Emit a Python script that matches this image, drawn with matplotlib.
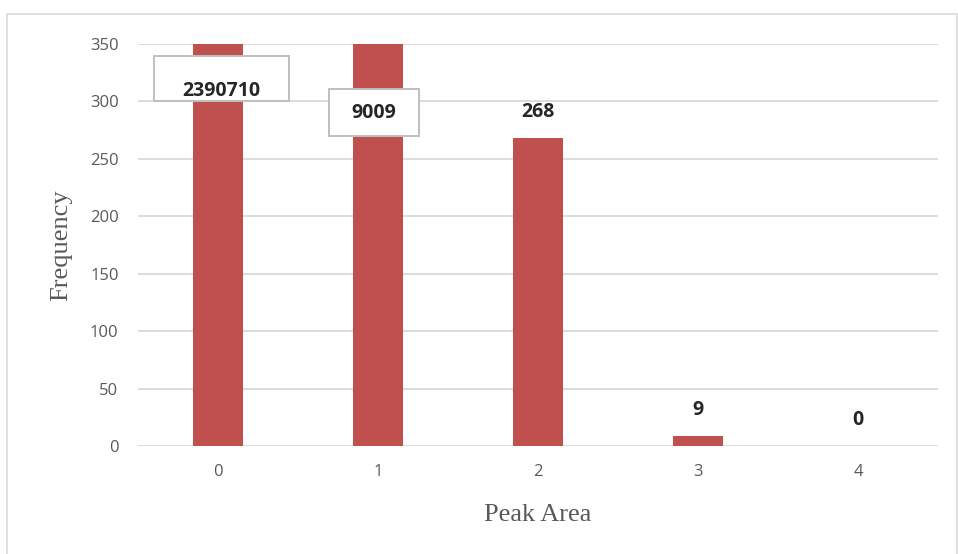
import matplotlib
matplotlib.use("Agg")
import matplotlib.pyplot as plt
from matplotlib.patches import Rectangle

# Histogram counts per peak-area bin
categories = ["0", "1", "2", "3", "4"]
counts = [2390710, 9009, 268, 9, 0]
y_ticks = [0, 50, 100, 150, 200, 250, 300, 350]

bar_color = "#c0504d"
grid_color = "#d9d9d9"
tick_color = "#595959"
label_color = "#262626"

fig = plt.figure(figsize=(9.58, 5.54), dpi=100)
W, H = 958, 554
ax = fig.add_axes([138 / W, (H - 446) / H, 800 / W, 402 / H])

x = list(range(len(categories)))
ax.bar(x, counts, width=0.3125, color=bar_color, zorder=2)

ax.set_xlim(-0.5, len(categories) - 0.5)
ax.set_ylim(0, 350)
ax.set_yticks(y_ticks)
ax.set_xticks(x)
ax.set_xticklabels(categories)
ax.grid(axis="y", color=grid_color, linewidth=1.3, zorder=0)
ax.set_axisbelow(True)
for s in ax.spines.values():
    s.set_visible(False)
ax.tick_params(axis="both", length=0, labelsize=12, labelcolor=tick_color,
               labelfontfamily="Open Sans")
ax.tick_params(axis="x", pad=13)
ax.tick_params(axis="y", pad=14)

ax.set_xlabel("Peak Area", family="Liberation Serif", fontsize=19,
              color=tick_color, labelpad=17)
ax.set_ylabel("Frequency", family="Liberation Serif", fontsize=19,
              color=tick_color, labelpad=13)

# Value labels above the visible bars
ymax = ax.get_ylim()[1]
for xi, v in zip(x, counts):
    if v <= ymax:
        ax.annotate(f"{v}", (xi, v), xytext=(0, 18.5), textcoords="offset points",
                    ha="center", va="center", fontsize=14, fontweight="bold",
                    family="Open Sans", color=label_color)

# Boxed labels for the bars that run past the top of the axis
# (left/right offset from bar centre, top/bottom in px from figure top,
#  text height as a fraction of the box)
boxes = {0: (-0.40, 0.444, 56, 101, 0.22), 1: (-0.306, 0.256, 89, 136, 0.49)}
for xi, (dx0, dx1, ytop, ybot, frac) in boxes.items():
    v = counts[xi]
    x0, x1 = xi + dx0, xi + dx1
    y0 = (446 - ybot) / 402 * 350
    y1 = (446 - ytop) / 402 * 350
    ax.add_patch(Rectangle((x0, y0), x1 - x0, y1 - y0, facecolor="white",
                           edgecolor="#bfbfbf", linewidth=1.4, zorder=4,
                           clip_on=False))
    ax.text((x0 + x1) / 2, y0 + (y1 - y0) * frac, f"{v}", ha="center",
            va="center", fontsize=14, fontweight="bold", family="Open Sans",
            color=label_color, zorder=5)

# Outer chart frame
fig.add_artist(Rectangle((7 / W, -0.05), (W - 8) / W, (H - 14) / H + 0.05,
                         transform=fig.transFigure, fill=False,
                         edgecolor="#d9d9d9", linewidth=1.2))

fig.savefig("out.png", dpi=100, facecolor="white")
